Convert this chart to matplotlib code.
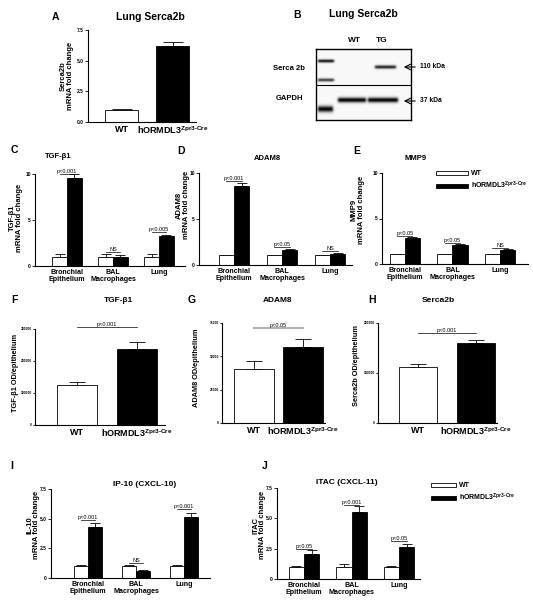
import numpy as np
import matplotlib.pyplot as plt
from matplotlib.patches import Patch

plt.rcParams['font.family'] = ['Liberation Sans', 'DejaVu Sans']
plt.rcParams['font.weight'] = 'bold'
plt.rcParams['mathtext.fontset'] = 'custom'
plt.rcParams['mathtext.rm'] = 'Liberation Sans'
plt.rcParams['mathtext.bf'] = 'Liberation Sans:bold'

W, H = 533, 609
TG_NAME = r'hORMDL3$^{\mathregular{Zpr3\text{-}Cre}}$'

# ---- data ----
groups = ['WT', TG_NAME]
tissues = ['Bronchial\nEpithelium', 'BAL\nMacrophages', 'Lung']

# A: lung Serca2b qPCR
serca_mrna = [1.0, 6.2]
serca_mrna_err = [0.08, 0.3]

# B: western blot bands (lane x-range in px inside blot, y centre, thickness, darkness)
band_x0 = [2, 2, 2, 59, 22, 52]
band_x1 = [18, 18, 17, 80, 50, 82]
band_y = [12, 31, 60, 18, 51, 51]
band_w = [1.2, 1.2, 2.2, 1.3, 1.8, 1.8]
band_dark = [0.85, 0.7, 0.95, 0.8, 0.95, 0.95]

# C, D, E: mRNA fold change per tissue
tgf_wt = [1.0, 1.0, 1.0]
tgf_wt_err = [0.3, 0.3, 0.3]
tgf_tg = [9.6, 0.95, 3.3]
tgf_tg_err = [0.4, 0.28, 0.12]
tgf_p = ['p<0.001', 'NS', 'p<0.005']
tgf_p_y = [9.95, 1.5, 3.75]

adam_wt = [1.05, 1.05, 1.05]
adam_wt_err = [0.08, 0.05, 0.05]
adam_tg = [8.6, 1.65, 1.25]
adam_tg_err = [0.35, 0.08, 0.08]
adam_p = ['p<0.001', 'p<0.05', 'NS']
adam_p_y = [9.1, 1.95, 1.5]

mmp_wt = [1.05, 1.05, 1.05]
mmp_wt_err = [0.06, 0.06, 0.06]
mmp_tg = [2.9, 2.1, 1.5]
mmp_tg_err = [0.08, 0.1, 0.15]
mmp_p = ['p<0.05', 'p<0.05', 'NS']
mmp_p_y = [3.05, 2.3, 1.75]

# F, G, H: OD / epithelium
tgf_od = [124000, 239000]
tgf_od_err = [10000, 19000]
adam_od = [40500, 57000]
adam_od_err = [6000, 6000]
serca_od = [112000, 160000]
serca_od_err = [7000, 6000]

# I, J: chemokines
ip10_wt = [1.0, 1.0, 1.0]
ip10_wt_err = [0.1, 0.08, 0.08]
ip10_tg = [4.3, 0.6, 5.15]
ip10_tg_err = [0.3, 0.1, 0.35]
ip10_p = ['p<0.001', 'NS', 'p<0.001']
ip10_p_y = [4.9, 1.25, 5.8]

itac_wt = [1.0, 1.0, 1.0]
itac_wt_err = [0.08, 0.2, 0.08]
itac_tg = [2.05, 5.55, 2.65]
itac_tg_err = [0.35, 0.45, 0.25]
itac_p = ['p<0.05', 'p<0.001', 'p<0.05']
itac_p_y = [2.5, 6.1, 3.1]

fig = plt.figure(figsize=(W / 100, H / 100), dpi=100)


def px_axes(x0, y0, x1, y1):
    return fig.add_axes([x0 / W, 1 - y1 / H, (x1 - x0) / W, (y1 - y0) / H])


def ftext(x, y, s, **kw):
    kw.setdefault('ha', 'center')
    kw.setdefault('va', 'center')
    fig.text(x / W, 1 - y / H, s, **kw)


def style(ax):
    for s in ['top', 'right']:
        ax.spines[s].set_visible(False)
    for s in ['left', 'bottom']:
        ax.spines[s].set_linewidth(0.8)
    ax.tick_params(axis='y', length=2, width=0.6, labelsize=3.5, pad=1)
    ax.tick_params(axis='x', length=0, pad=2)


def bars(ax, x, vals, errs, color, width, cap):
    ax.bar(x, vals, width, color=color, edgecolor='black', linewidth=0.6, zorder=2)
    ax.errorbar(x, vals, yerr=[np.zeros(len(vals)), errs], fmt='none',
                ecolor='black', elinewidth=0.6, capsize=cap, capthick=0.6, zorder=1)


def grouped(ax, wt, wt_err, tg, tg_err, plabels, py, ymax, yticks, xlim, cap=3.5, bw=0.32):
    x = np.arange(len(wt))
    bars(ax, x - bw / 2, wt, wt_err, 'white', bw, cap)
    bars(ax, x + bw / 2, tg, tg_err, 'black', bw, cap)
    for xi, lab, yy in zip(x, plabels, py):
        ax.plot([xi - bw / 2, xi + bw / 2], [yy, yy], color='black', lw=0.5, clip_on=False)
        ax.text(xi, yy, lab, ha='center', va='bottom', fontsize=4, fontweight='normal')
    ax.set_ylim(0, ymax)
    ax.set_xlim(*xlim)
    ax.set_yticks(yticks)
    ax.set_xticks(x)
    ax.set_xticklabels(tissues, fontsize=5.1, linespacing=1.0)
    style(ax)


def two_bar(ax, vals, errs, ymax, yticks, xlim, bw, plabel, py, pcolor='black', plw=0.5):
    x = np.arange(2)
    bars(ax, x[:1], vals[:1], errs[:1], 'white', bw, 6)
    bars(ax, x[1:], vals[1:], errs[1:], 'black', bw, 6)
    ax.plot([0, 1], [py, py], color=pcolor, lw=plw, clip_on=False)
    ax.text(0.5, py, plabel, ha='center', va='bottom', fontsize=4, fontweight='normal')
    ax.set_ylim(0, ymax)
    ax.set_xlim(*xlim)
    ax.set_yticks(yticks)
    ax.set_xticks(x)
    ax.set_xticklabels(groups, fontsize=6.5)
    style(ax)
    ax.tick_params(axis='y', labelsize=2.3, pad=0.5, length=1.5)


# ---- A ----
ax = px_axes(88, 30, 196, 122)
x = np.arange(2)
bars(ax, x[:1], serca_mrna[:1], serca_mrna_err[:1], 'white', 0.65, 7)
bars(ax, x[1:], serca_mrna[1:], serca_mrna_err[1:], 'black', 0.65, 7)
ax.set_ylim(0, 7.5)
ax.set_xlim(-0.66, 1.46)
ax.set_yticks([0, 2.5, 5.0, 7.5])
ax.set_yticklabels(['0.0', '2.5', '5.0', '7.5'])
ax.set_xticks(x)
ax.set_xticklabels(groups, fontsize=6.5)
style(ax)
ftext(67, 76, 'Serca2b\nmRNA fold change', rotation=90, fontsize=5.5, linespacing=1.0)
ftext(55, 17, 'A', fontsize=7.5)
ftext(150, 17, 'Lung Serca2b', fontsize=7.5)

# ---- B ----
bx = px_axes(316, 49, 411, 120)
nx, ny = 95, 71
xx = np.arange(nx) + 0.5
yy = np.arange(ny) + 0.5
img = np.full((ny, nx), 0.03)
for x0, x1, yc, w, d in zip(band_x0, band_x1, band_y, band_w, band_dark):
    prof_y = np.exp(-0.5 * ((yy - yc) / w) ** 2)
    prof_x = 1 / (1 + np.exp(-(xx - x0) * 1.5)) / (1 + np.exp((xx - x1) * 1.5))
    img += d * np.outer(prof_y, prof_x)
bx.imshow(np.clip(img, 0, 1), cmap='gray_r', vmin=0, vmax=1, extent=[0, nx, ny, 0],
          aspect='auto', interpolation='bilinear')
bx.axhline(36, color='black', lw=0.8)
bx.set_xticks([])
bx.set_yticks([])
for s in bx.spines.values():
    s.set_linewidth(1.0)
ftext(297, 15, 'B', fontsize=7.5)
ftext(363, 14, 'Lung Serca2b', fontsize=7.5)
ftext(354, 41, 'WT', fontsize=6)
ftext(382, 41, 'TG', fontsize=6)
ftext(289, 68, 'Serca 2b', fontsize=5.5)
ftext(290, 99, 'GAPDH', fontsize=5.5)
for yk, lab in [(67, '110 kDa'), (101, '37 kDa')]:
    bx.annotate('', xy=(401, H - yk), xytext=(418, H - yk), xycoords='figure pixels',
                textcoords='figure pixels', arrowprops=dict(arrowstyle='->', lw=0.8))
    ftext(420, yk, lab, fontsize=4.8, ha='left')

# ---- C ----
ax = px_axes(35, 174, 185, 266)
grouped(ax, tgf_wt, tgf_wt_err, tgf_tg, tgf_tg_err, tgf_p, tgf_p_y, 10, [0, 5, 10], (-0.7, 2.57))
ftext(16, 218, 'TGF-\u03b21\nmRNA fold change', rotation=90, fontsize=5.5, linespacing=1.0)
ftext(14, 150, 'C', fontsize=7.5)
ftext(58, 156, 'TGF-\u03b21', fontsize=5.5)

# ---- D ----
ax = px_axes(199, 173, 352, 265)
grouped(ax, adam_wt, adam_wt_err, adam_tg, adam_tg_err, adam_p, adam_p_y, 10, [0, 5, 10], (-0.73, 2.46))
ftext(183, 205, 'ADAM8\nmRNA fold change', rotation=90, fontsize=5.5, linespacing=1.0)
ftext(181, 151, 'D', fontsize=7.5)
ftext(267, 159, 'ADAM8', fontsize=5.5)

# ---- E ----
ax = px_axes(382, 173, 528, 264)
grouped(ax, mmp_wt, mmp_wt_err, mmp_tg, mmp_tg_err, mmp_p, mmp_p_y, 10, [0, 5, 10], (-0.48, 2.59))
ftext(358, 210, 'MMP9\nmRNA fold change', rotation=90, fontsize=5.5, linespacing=1.0)
ftext(357, 151, 'E', fontsize=7.5)
ftext(416, 158, 'MMP9', fontsize=5.5)
handles = [Patch(facecolor='white', edgecolor='black', linewidth=0.6),
           Patch(facecolor='black', edgecolor='black', linewidth=0.6)]
fig.legend(handles, groups, loc='upper left', bbox_to_anchor=(433 / W, 1 - 167 / H),
           frameon=False, fontsize=5, handlelength=4.5, handleheight=0.6,
           handletextpad=0.5, labelspacing=0.3, borderpad=0)

# ---- F ----
ax = px_axes(35, 329, 165, 425)
two_bar(ax, tgf_od, tgf_od_err, 300000, [0, 100000, 200000, 300000], (-0.7, 1.47), 0.667,
        'p<0.001', 305000)
ftext(16, 373, 'TGF-\u03b21 OD/epithelium', rotation=90, fontsize=5.3)
ftext(14, 300, 'F', fontsize=7.5)
ftext(118, 300, 'TGF-\u03b21', fontsize=6)

# ---- G ----
ax = px_axes(222, 323, 325, 423)
two_bar(ax, adam_od, adam_od_err, 75000, [0, 25000, 50000, 75000], (-0.64, 1.44), 0.81,
        'p<0.05', 71000, pcolor='#b0b0b0', plw=1.5)
ftext(196, 368, 'ADAM8 OD/epithelium', rotation=90, fontsize=5.3)
ftext(192, 300, 'G', fontsize=7.5)
ftext(278, 300, 'ADAM8', fontsize=6)

# ---- H ----
ax = px_axes(378, 323, 497, 423)
two_bar(ax, serca_od, serca_od_err, 200000, [0, 100000, 200000], (-0.69, 1.36), 0.655,
        'p<0.001', 180000)
ftext(357, 366, 'Serca2b OD/epithelium', rotation=90, fontsize=5.3)
ftext(372, 300, 'H', fontsize=7.5)
ftext(438, 300, 'Serca2b', fontsize=6)

# ---- I ----
ax = px_axes(51, 489, 210, 578)
grouped(ax, ip10_wt, ip10_wt_err, ip10_tg, ip10_tg_err, ip10_p, ip10_p_y, 7.5,
        [0, 2.5, 5.0, 7.5], (-0.77, 2.54), bw=0.3)
ax.set_yticklabels(['0', '2.5', '5.0', '7.5'])
ftext(33, 525, 'IL-10\nmRNA fold change', rotation=90, fontsize=5.5, linespacing=1.0)
ftext(12, 466, 'I', fontsize=7.5)
ftext(145, 484, 'IP-10 (CXCL-10)', fontsize=6)

# ---- J ----
ax = px_axes(277, 488, 420, 579)
grouped(ax, itac_wt, itac_wt_err, itac_tg, itac_tg_err, itac_p, itac_p_y, 7.5,
        [0, 2.5, 5.0, 7.5], (-0.57, 2.44), bw=0.32)
ax.set_yticklabels(['0', '2.5', '5.0', '7.5'])
ftext(259, 525, 'ITAC\nmRNA fold change', rotation=90, fontsize=5.5, linespacing=1.0)
ftext(265, 466, 'J', fontsize=7.5)
ftext(347, 483, 'ITAC (CXCL-11)', fontsize=6)
fig.legend(handles, groups, loc='upper left', bbox_to_anchor=(428 / W, 1 - 479 / H),
           frameon=False, fontsize=5, handlelength=3.5, handleheight=0.6,
           handletextpad=0.5, labelspacing=0.3, borderpad=0)

fig.savefig('out.png', dpi=100)
